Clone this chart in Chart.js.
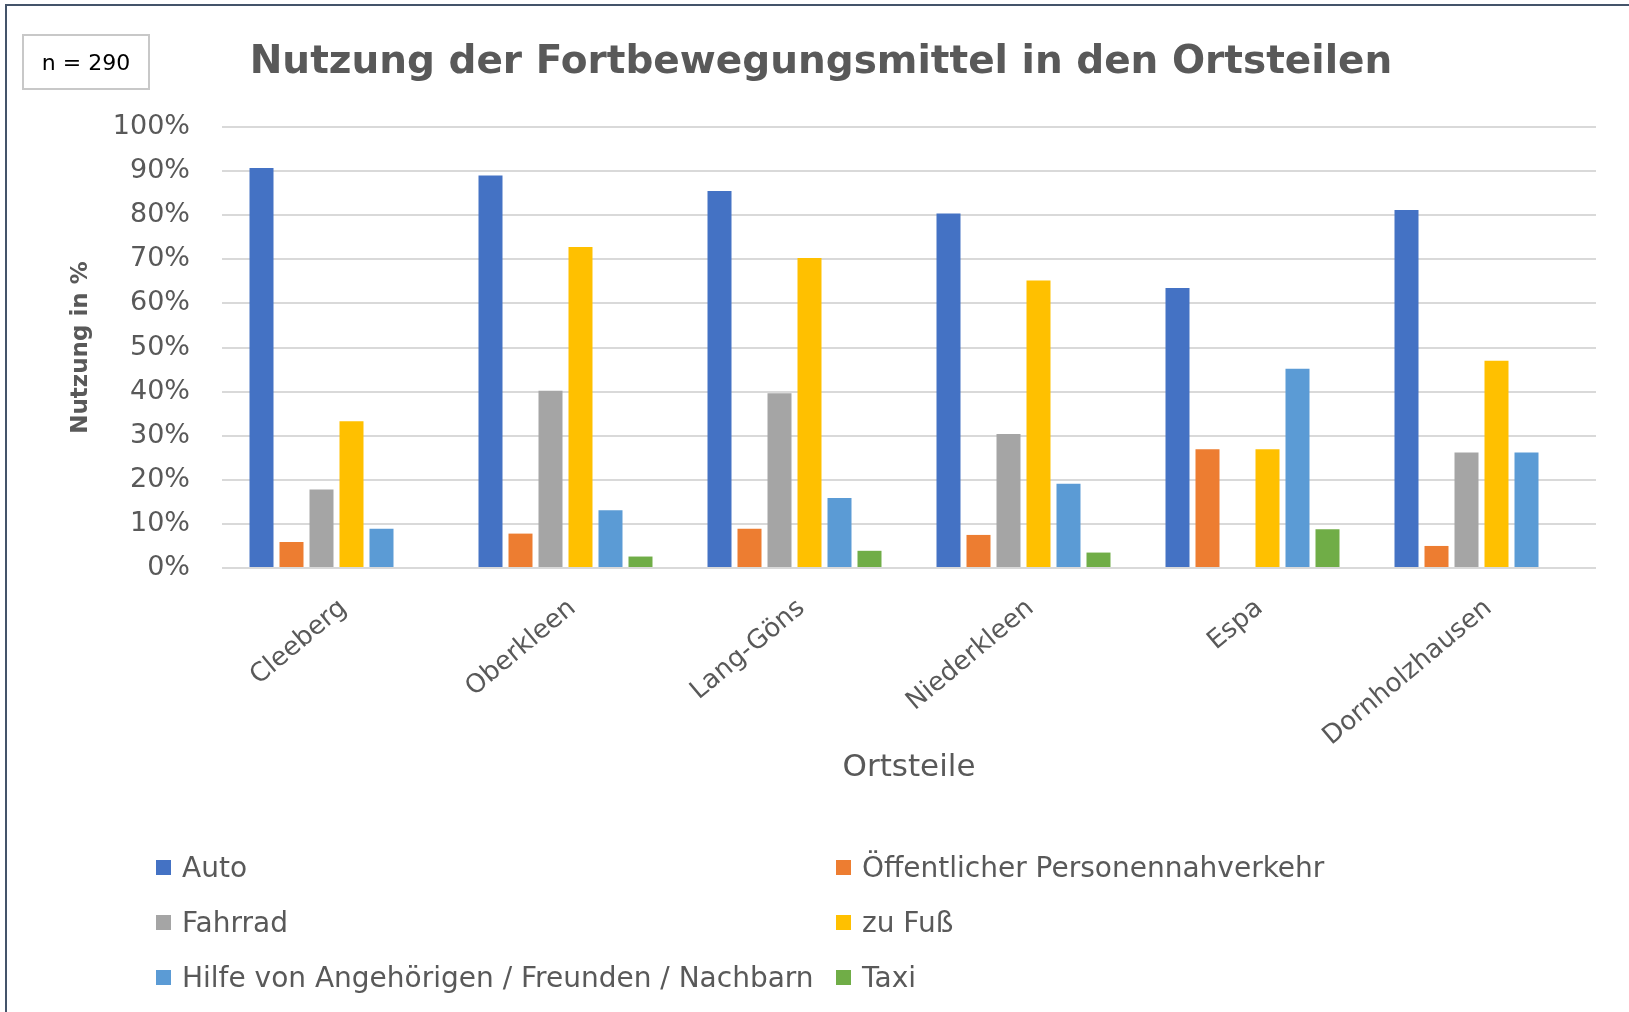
<!DOCTYPE html>
<html>
<head>
<meta charset="utf-8">
<script src="https://cdn.jsdelivr.net/npm/chart.js@4.4.0/dist/chart.umd.min.js"></script>
<style>
  html, body { margin: 0; padding: 0; background: #fff; }
  #wrap { position: relative; width: 1629px; height: 1012px; overflow: hidden; }
  #frame { position: absolute; left: 5px; top: 4px; right: -4px; bottom: -4px; border: 2px solid #44546a; }
  #chart { position: absolute; left: 0; top: 0; }
  #titel { position: absolute; left: 0; width: 1642px; top: 37px; text-align: center;
           font: bold 39px "DejaVu Sans"; color: #595959; white-space: nowrap; }
  #nbox { position: absolute; left: 22px; top: 34px; width: 124px; height: 52px; border: 2px solid #c8c8c8;
          font: 22px "DejaVu Sans"; color: #000; display: flex; align-items: center; justify-content: center; }
  #legend { position: absolute; left: 156px; top: 852px; width: 1300px;
            font: 28px "DejaVu Sans"; color: #595959; }
  .item { position: absolute; display: flex; align-items: center; height: 30px; white-space: nowrap; }
  .sw { width: 15px; height: 15px; margin-right: 11px; }
</style>
</head>
<body>
<div id="wrap">
  <div id="frame"></div>
  <canvas id="chart" width="1629" height="1012"></canvas>
  <div id="titel">Nutzung der Fortbewegungsmittel in den Ortsteilen</div>
  <div id="nbox">n = 290</div>
  <div id="legend"></div>
</div>
<script>
var ortsteile = ['Cleeberg', 'Oberkleen', 'Lang-Göns', 'Niederkleen', 'Espa', 'Dornholzhausen'];
var serien = ['Auto', 'Öffentlicher Personennahverkehr', 'Fahrrad', 'zu Fuß', 'Hilfe von Angehörigen / Freunden / Nachbarn', 'Taxi'];
var farben = ['#4472c4', '#ed7d31', '#a5a5a5', '#ffc000', '#5b9bd5', '#70ad47'];

var auto    = [90.7, 89.0, 85.5, 80.4, 63.5, 81.2];
var oepnv   = [5.9, 7.8, 8.9, 7.5, 26.9, 5.0];
var fahrrad = [17.8, 40.2, 39.6, 30.4, 0, 26.2];
var zuFuss  = [33.3, 72.8, 70.3, 65.2, 26.9, 47.0];
var hilfe   = [8.9, 13.1, 15.9, 19.1, 45.2, 26.2];
var taxi    = [0, 2.6, 3.9, 3.5, 8.8, 0];

var yTicks = [0, 10, 20, 30, 40, 50, 60, 70, 80, 90, 100];

var werte = [auto, oepnv, fahrrad, zuFuss, hilfe, taxi];
var grau = '#595959';

var datasets = werte.map(function (w, i) {
  return {
    label: serien[i],
    data: w,
    backgroundColor: farben[i],
    borderWidth: 0,
    barPercentage: 0.8,
    categoryPercentage: 0.786
  };
});

var ctx = document.getElementById('chart').getContext('2d');
new Chart(ctx, {
  type: 'bar',
  data: { labels: ortsteile, datasets: datasets },
  options: {
    responsive: false,
    animation: false,
    layout: { padding: { left: 12, right: 33, top: 127, bottom: 200 } },
    plugins: {
      legend: { display: false },
      tooltip: { enabled: false },
      title: { display: false }
    },
    scales: {
      x: {
        grid: { display: false },
        border: { display: false },
        ticks: {
          color: grau,
          font: { family: 'DejaVu Sans', size: 26 },
          minRotation: 40,
          maxRotation: 40,
          autoSkip: false,
          padding: 17,
          labelOffset: 7
        },
        title: {
          display: true,
          text: 'Ortsteile',
          color: grau,
          font: { family: 'DejaVu Sans', size: 31 },
          padding: { top: 0, bottom: 25 }
        },
        afterFit: function (s) { s.height = 1012 - 200 - 568; }
      },
      y: {
        min: 0,
        max: 100,
        afterBuildTicks: function (s) { s.ticks = yTicks.map(function (v) { return { value: v }; }); },
        grid: { color: '#d9d9d9', lineWidth: 2, drawTicks: false },
        border: { display: false },
        ticks: {
          color: grau,
          font: { family: 'DejaVu Sans', size: 27 },
          padding: 32,
          callback: function (v) { return v + '%'; }
        },
        title: {
          display: true,
          text: 'Nutzung in %',
          color: grau,
          font: { family: 'DejaVu Sans', size: 23, weight: 'bold' },
          padding: { top: 55, bottom: 0 }
        },
        afterFit: function (s) { s.width = 222 - 12; }
      }
    }
  }
});

// Legende in zwei Spalten
var leg = document.getElementById('legend');
serien.forEach(function (name, i) {
  var d = document.createElement('div');
  d.className = 'item';
  d.style.left = (i % 2 === 0 ? 0 : 680) + 'px';
  d.style.top = (Math.floor(i / 2) * 55) + 'px';
  d.innerHTML = '<span class="sw" style="background:' + farben[i] + '"></span><span>' + name + '</span>';
  leg.appendChild(d);
});
</script>
</body>
</html>
